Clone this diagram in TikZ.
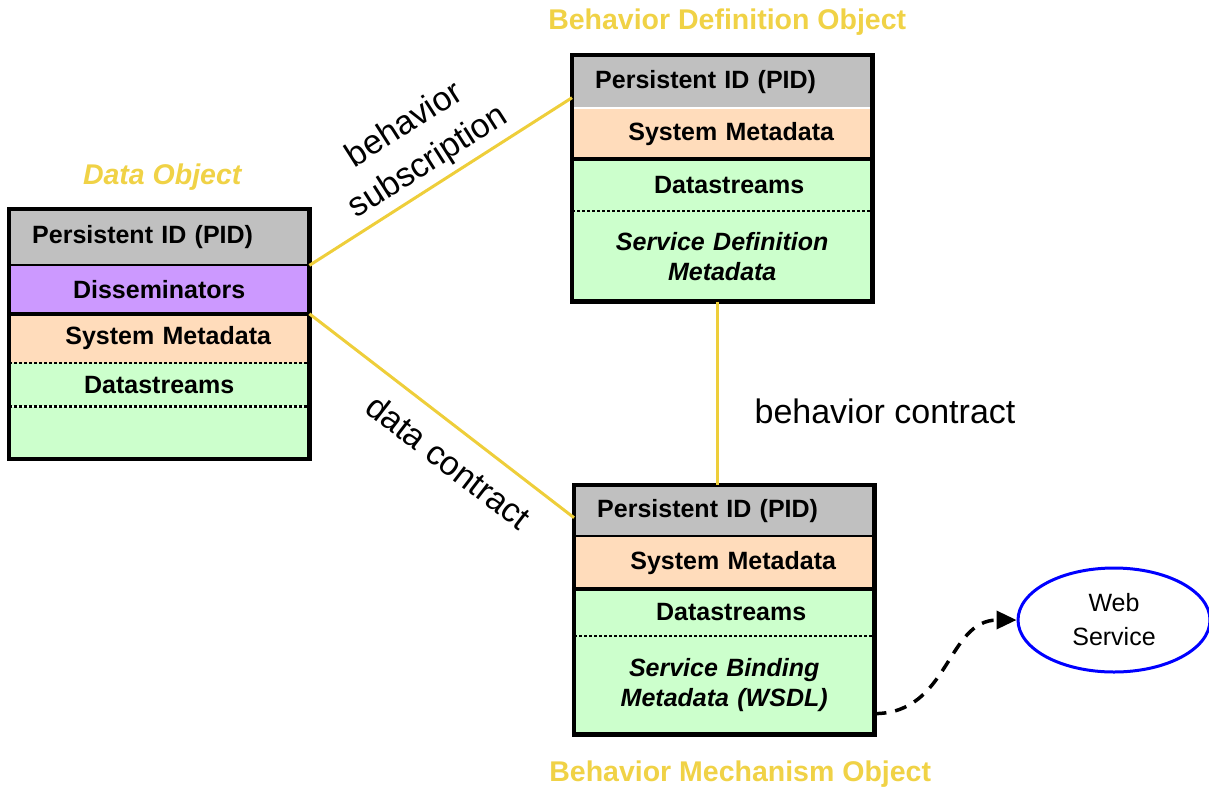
\documentclass[tikz,border=0pt]{standalone}
\usepackage{fontspec}
\setmainfont{Liberation Sans}
\usepackage{tikz}
\usetikzlibrary{arrows.meta, positioning, calc, shapes.geometric}

\definecolor{pidgrey}{RGB}{192,192,192}
\definecolor{dissviolet}{RGB}{204,153,255}
\definecolor{sysmeta}{RGB}{255,220,187}
\definecolor{streamgreen}{RGB}{204,255,204}
\definecolor{linkyellow}{RGB}{238,206,58}
\definecolor{titleyellow}{RGB}{240,210,70}

\newcommand{\boxfont}{\fontsize{25}{30}\selectfont\bfseries}
\newcommand{\titlefont}{\fontsize{28.5}{33}\selectfont\bfseries}
\newcommand{\linkfont}{\fontsize{34}{44}\selectfont}

\begin{document}
\begin{tikzpicture}[
    x = 1pt, y = -1pt,
    node distance = 0pt,
    sect/.style    = {inner xsep = 5pt, inner ysep = 0pt,
                      text width = 290pt, align = center,
                      font = \boxfont},
    pidsect/.style = {sect, fill = pidgrey, inner xsep = 23pt,
                      text width = 254pt, align = left},
    frame/.style   = {draw = black, line width = 4.5pt},
    thinsep/.style = {draw = black, line width = 2pt},
    thicksep/.style= {draw = black, line width = 4pt},
    dotsep/.style  = {draw = black, line width = 2.5pt,
                      dash pattern = on 2.5pt off 2.5pt},
    title/.style   = {font = \titlefont, text = titleyellow, inner sep = 0pt},
    link/.style    = {draw = linkyellow, line width = 3pt},
    linklbl/.style = {font = \linkfont, align = center, inner sep = 0pt},
    ws/.style      = {ellipse, draw = blue, line width = 3pt,
                      minimum width = 192pt, minimum height = 104pt,
                      align = center, font = \fontsize{25}{34}\selectfont},
    dasharr/.style = {-{Triangle[length = 20pt, width = 18pt]},
                      line width = 3.5pt, dash pattern = on 12pt off 9pt},
  ]
    \useasboundingbox (0,0) rectangle (1209,790);

    %% ── Data object ──────────────────────────────────────────────
    \node[pidsect, minimum height = 56pt, anchor = north west] (D1)
      at (9,209) {Persistent ID (PID)};
    \node[sect, fill = dissviolet, minimum height = 48pt, below=of D1] (D2)
      {Disseminators};
    \node[sect, fill = sysmeta, minimum height = 49pt, below=of D2] (D3)
      {\hspace*{18pt}System Metadata};
    \node[sect, fill = streamgreen, minimum height = 43pt, below=of D3] (D4)
      {Datastreams};
    \node[sect, fill = streamgreen, minimum height = 52pt, below=of D4] (D5)
      {};

    \draw[thinsep]  (D1.south west) -- (D1.south east);
    \draw[thicksep] (D2.south west) -- (D2.south east);
    \draw[dotsep]   (D3.south west) -- (D3.south east);
    \draw[dotsep]   (D4.south west) -- (D4.south east);
    \draw[frame]    (D1.north west) rectangle (D5.south east);

    \node[title, font = \titlefont\itshape] (TD) at ($(D1.north) + (3,-32)$)
      {Data Object};

    %% ── Behavior definition object ───────────────────────────────
    \node[pidsect, minimum height = 53pt, anchor = north west] (B1)
      at (572,55) {Persistent ID (PID)};
    \node[sect, fill = sysmeta, minimum height = 50pt, below=of B1] (B2)
      {\hspace*{18pt}System Metadata};
    \node[sect, fill = streamgreen, minimum height = 52pt, below=of B2] (B3)
      {\hspace*{14pt}Datastreams};
    \node[sect, fill = streamgreen, minimum height = 90pt, below=of B3] (B4)
      {\itshape Service Definition\\\itshape Metadata};

    \draw[draw = white, line width = 2pt] (B1.south west) -- (B1.south east);
    \draw[thicksep] (B2.south west) -- (B2.south east);
    \draw[dotsep]   (B3.south west) -- (B3.south east);
    \draw[frame]    (B1.north west) rectangle (B4.south east);

    \node[title] (TB) at ($(B1.north) + (5,-33)$) {Behavior Definition Object};

    %% ── Behavior mechanism object ────────────────────────────────
    \node[pidsect, minimum height = 51pt, anchor = north west] (M1)
      at (574,485) {Persistent ID (PID)};
    \node[sect, fill = sysmeta, minimum height = 52pt, below=of M1] (M2)
      {\hspace*{18pt}System Metadata};
    \node[sect, fill = streamgreen, minimum height = 47pt, below=of M2] (M3)
      {\hspace*{14pt}Datastreams};
    \node[sect, fill = streamgreen, minimum height = 98pt, below=of M3] (M4)
      {\itshape Service Binding\\\itshape Metadata (WSDL)};

    \draw[thinsep]  (M1.south west) -- (M1.south east);
    \draw[thicksep] (M2.south west) -- (M2.south east);
    \draw[dotsep]   (M3.south west) -- (M3.south east);
    \draw[frame]    (M1.north west) rectangle (M4.south east);

    \node[title] (TM) at ($(M4.south) + (16,40)$) {Behavior Mechanism Object};

    %% ── Web service ──────────────────────────────────────────────
    \node[ws] (WS) at (1114,620) {Web\\Service};

    %% ── Contracts ────────────────────────────────────────────────
    \draw[link] (D1.south east) --
      node[linklbl, sloped, above = 5pt] {behavior\\subscription}
      ([yshift=-16pt]B1.west);
    \draw[link] (D2.south east) --
      node[linklbl, sloped, below = 18pt, pos = 0.6] {data contract}
      ([yshift=-7pt]M1.west);
    \draw[link] ([xshift=-5pt]B4.south) -- ([xshift=-5pt]B4.south |- M1.north);
    \node[linklbl, anchor = west] (LC)
      at ($(B4.south)!0.6!(M1.north) + (31,0)$) {behavior contract};

    \draw[dasharr] ([yshift=21pt]M4.south east)
      .. controls +(75,0) and +(-70,0) .. (WS.west);
  \end{tikzpicture}
\end{document}
